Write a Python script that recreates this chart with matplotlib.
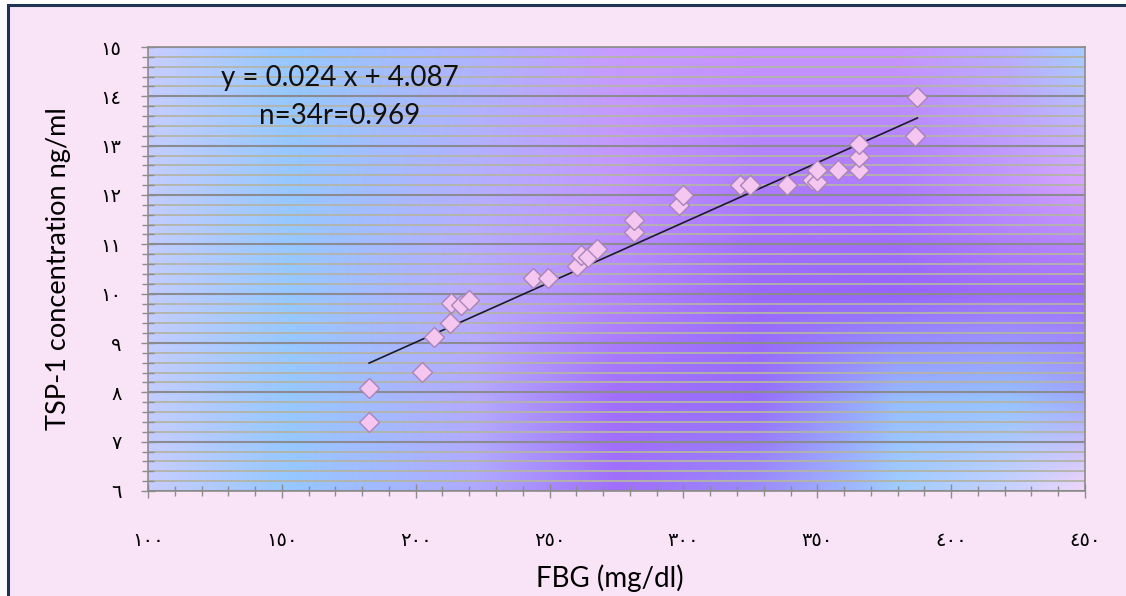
import matplotlib.pyplot as plt
import numpy as np
from matplotlib.patches import Rectangle
from matplotlib.ticker import MultipleLocator

# FBG (mg/dl) vs TSP-1 (ng/ml)
fbg = [182.6, 182.6, 202.5, 206.8, 212.7, 213.3, 217.0, 219.9, 243.8, 249.4,
       260.4, 261.9, 264.4, 267.8, 281.7, 281.7, 298.5, 300.0, 321.1, 324.9,
       338.8, 347.9, 349.8, 349.8, 357.9, 365.7, 365.7, 365.7, 386.5, 387.4]
tsp1 = [8.09, 7.39, 8.42, 9.12, 9.40, 9.81, 9.78, 9.88, 10.31, 10.31,
        10.57, 10.78, 10.74, 10.91, 11.25, 11.49, 11.79, 12.00, 12.21, 12.21,
        12.20, 12.30, 12.26, 12.50, 12.51, 12.50, 12.78, 13.04, 13.19, 13.99]

eq_text = "y = 0.024 x + 4.087"
stat_text = "n=34r=0.969"

x_ticks = [100, 150, 200, 250, 300, 350, 400, 450]
x_labels = ["١٠٠", "١٥٠", "٢٠٠", "٢٥٠", "٣٠٠", "٣٥٠", "٤٠٠", "٤٥٠"]
y_ticks = [6, 7, 8, 9, 10, 11, 12, 13, 14, 15]
y_labels = ["٦", "٧", "٨", "٩", "١٠", "١١", "١٢", "١٣", "١٤", "١٥"]

fig = plt.figure(figsize=(11.26, 5.96), dpi=100, facecolor="white")
fig.patches.append(Rectangle((8 / 1126, -0.1), 1.2, 1.1 - 5 / 596, transform=fig.transFigure,
                             facecolor="#f9e4f7", edgecolor="#1f3550", linewidth=2.2, zorder=-1))
ax = fig.add_axes([148 / 1126, 1 - 491 / 596, 937 / 1126, 444 / 596])

# background gradient of the plot area (control colours, top to bottom rows)
cols = [0, 0.15, 0.35, 0.5, 0.65, 0.8, 0.92, 1.0]
rows = [0, 0.3, 0.55, 0.8, 1.0]
ctrl = np.array([
    [(200, 205, 255), (150, 200, 255), (175, 180, 255), (200, 155, 255), (200, 150, 255), (200, 150, 255), (185, 175, 255), (165, 205, 255)],
    [(195, 205, 255), (150, 200, 255), (180, 175, 255), (195, 150, 255), (175, 125, 255), (175, 125, 255), (195, 150, 255), (215, 165, 255)],
    [(195, 205, 255), (150, 200, 255), (185, 170, 255), (180, 135, 255), (155, 105, 250), (150, 100, 250), (160, 110, 250), (160, 110, 250)],
    [(195, 205, 255), (150, 200, 255), (180, 170, 255), (160, 110, 250), (150, 110, 250), (150, 190, 255), (150, 195, 255), (160, 170, 255)],
    [(200, 205, 255), (150, 200, 255), (175, 170, 255), (160, 110, 250), (155, 140, 250), (160, 205, 255), (200, 210, 255), (240, 215, 250)],
], dtype=float) / 255
W, H = 400, 200
xs = np.linspace(0, 1, W)
ys = np.linspace(0, 1, H)
tmp = np.stack([[np.interp(xs, cols, ctrl[r, :, c]) for c in range(3)] for r in range(len(rows))])  # (R,3,W)
img = np.empty((H, W, 3))
for c in range(3):
    for j in range(W):
        img[:, j, c] = np.interp(ys, rows, tmp[:, c, j])
ax.imshow(img, extent=[100, 450, 6, 15], aspect="auto", zorder=0, interpolation="bicubic", origin="upper")

ax.set_xlim(100, 450)
ax.set_ylim(6, 15)

# grid lines
ax.yaxis.set_minor_locator(MultipleLocator(0.2))
ax.xaxis.set_minor_locator(MultipleLocator(10))
ax.grid(axis="y", which="minor", color="#b4b4a8", linewidth=1.3, zorder=1)
ax.grid(axis="y", which="major", color="#8c8c90", linewidth=1.5, zorder=1)
ax.set_axisbelow(True)

ax.set_xticks(x_ticks)
ax.set_xticklabels(x_labels, fontfamily="DejaVu Sans", fontsize=14)
ax.set_yticks(y_ticks)
ax.set_yticklabels(y_labels, fontfamily="DejaVu Sans", fontsize=14)
ax.tick_params(axis="x", which="major", direction="inout", length=10, width=1, color="#8c8c8c", pad=24)
ax.tick_params(axis="x", which="minor", direction="inout", length=7, width=1, color="#8c8c8c")
ax.tick_params(axis="y", which="major", direction="inout", length=10, width=1, color="#8c8c8c", pad=14)
ax.tick_params(axis="y", which="minor", direction="inout", length=8, width=1, color="#8c8c8c")
for s in ax.spines.values():
    s.set_color("#8c8c8c")
    s.set_linewidth(1.2)

# scatter and trend line
ax.plot(fbg, tsp1, linestyle="none", marker="D", markersize=10, markerfacecolor="#f4c6f0",
        markeredgecolor="#a884b8", markeredgewidth=1, zorder=4)
k, b = np.polyfit(fbg, tsp1, 1)
xl = np.array([min(fbg), max(fbg)])
ax.plot(xl, k * xl + b, color="#1a1a2a", linewidth=1.2, zorder=3)

ax.text(0.205, 0.930, eq_text, transform=ax.transAxes, ha="center", va="center",
        fontfamily="Lato", fontsize=20, color="#111111")
ax.text(0.205, 0.845, stat_text, transform=ax.transAxes, ha="center", va="center",
        fontfamily="Lato", fontsize=20, color="#111111")

ax.set_xlabel("FBG (mg/dl)", fontfamily="Lato", fontsize=20)
ax.set_ylabel("TSP-1 concentration ng/ml", fontfamily="Lato", fontsize=19.5)
ax.xaxis.set_label_coords(0.493, -0.196)
ax.xaxis.label.set_va("center")
ax.yaxis.set_label_coords(-0.096, 0.5)
ax.yaxis.label.set_va("center")

fig.savefig("out.png", dpi=100)
